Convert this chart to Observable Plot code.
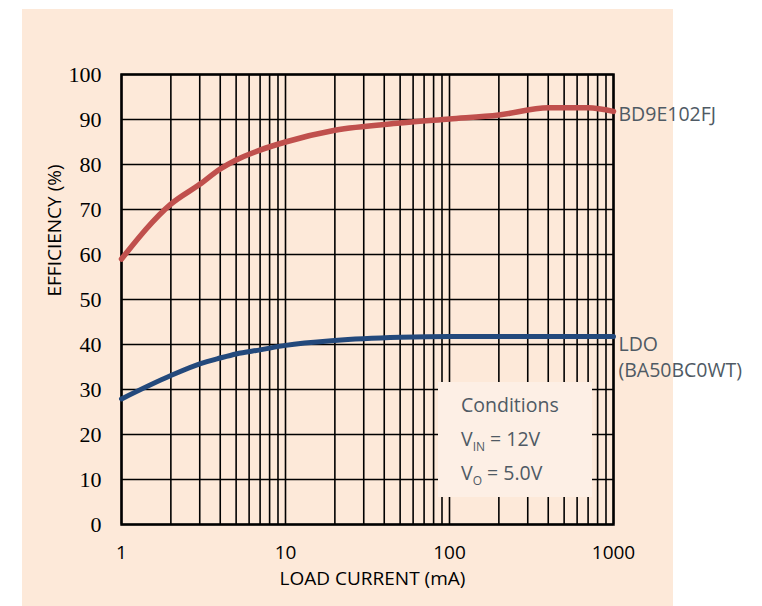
<!DOCTYPE html>
<html>
<head>
<meta charset="utf-8">
<script src="https://cdn.jsdelivr.net/npm/d3@7"></script>
<script src="https://cdn.jsdelivr.net/npm/@observablehq/plot@0.6"></script>
<style>
  html, body { margin: 0; padding: 0; background: #ffffff; }
  #wrap { position: relative; width: 762px; height: 606px; overflow: hidden; }
  #panel { position: absolute; left: 22px; top: 9px; width: 651px; height: 597px; background: #fde9d9; }
  #chart { position: absolute; left: 0; top: 0; }
  #cond { position: absolute; left: 438px; top: 382px; width: 154px; height: 115px; background: #fdefe5;
          font-family: "Open Sans", sans-serif; font-size: 19.5px; line-height: 24px; color: #4f5a64; }
  #cond div { position: absolute; left: 23px; white-space: nowrap; }
  #cond sub { font-size: 12px; vertical-align: -5px; line-height: 0; }
</style>
</head>
<body>
<div id="wrap">
  <div id="panel"></div>
  <div id="chart"></div>
  <div id="cond">
    <div style="top:11px">Conditions</div>
    <div style="top:45px">V<sub>IN</sub> = 12V</div>
    <div style="top:79px">V<sub>O</sub> = 5.0V</div>
  </div>
</div>
<script>
const currents = [1, 2, 3, 4, 5, 7, 10, 20, 50, 100, 200, 400, 700, 1000];
const bd9e102fj = [59, 71.2, 75.6, 79, 81, 83.2, 85, 87.6, 89.2, 90.1, 91, 92.6, 92.6, 91.8];
const ldo = [27.9, 33.1, 35.7, 37, 37.9, 38.8, 39.8, 40.9, 41.6, 41.8, 41.8, 41.8, 41.8, 41.8];
const xTicks = [1, 10, 100, 1000];
const yTicks = [0, 10, 20, 30, 40, 50, 60, 70, 80, 90, 100];
const xGrid = [1,2,3,4,5,6,7,8,9,10,20,30,40,50,60,70,80,90,100,200,300,400,500,600,700,800,900,1000];
const seriesNames = ["BD9E102FJ", "LDO\n(BA50BC0WT)"];

const red = currents.map((c, i) => ({x: c, y: bd9e102fj[i]}));
const blue = currents.map((c, i) => ({x: c, y: ldo[i]}));

const chart = Plot.plot({
  width: 762,
  height: 606,
  marginLeft: 121,
  marginRight: 149,
  marginTop: 74,
  marginBottom: 82,
  style: {background: "transparent", overflow: "visible"},
  x: {type: "log", domain: [1, 1000]},
  y: {domain: [0, 100]},
  marks: [
    Plot.ruleX(xGrid, {stroke: "#000", strokeWidth: 1.6}),
    Plot.ruleY(yTicks, {stroke: "#000", strokeWidth: 1.6}),
    Plot.frame({stroke: "#000", strokeWidth: 2.5}),
    Plot.axisY(yTicks, {tickSize: 0, tickPadding: 20, fontFamily: "Liberation Serif", fontSize: 22, fill: "#000", label: null}),
    Plot.axisX(xTicks, {tickSize: 0, tickPadding: 21, fontFamily: "Open Sans", fontSize: 19, fill: "#000", label: null, tickFormat: d => String(d)}),
    Plot.line(red, {x: "x", y: "y", stroke: "#c0504d", strokeWidth: 5.5, curve: "monotone-x"}),
    Plot.line(blue, {x: "x", y: "y", stroke: "#23497c", strokeWidth: 5, curve: "monotone-x"}),
    Plot.text([red[red.length - 1]], {x: "x", y: "y", text: () => seriesNames[0], textAnchor: "start", dx: 5, dy: 3,
      fontFamily: "Open Sans", fontSize: 19.5, fill: "#4f5a64"}),
    Plot.text([blue[blue.length - 1]], {x: "x", y: "y", text: () => seriesNames[1], textAnchor: "start", lineAnchor: "top", dx: 5, dy: -4,
      lineHeight: 1.33, fontFamily: "Open Sans", fontSize: 19.5, fill: "#4f5a64"}),
    Plot.text(["LOAD CURRENT (mA)"], {frameAnchor: "bottom", dx: 5, dy: 60, fontFamily: "Open Sans", fontSize: 19, fill: "#000"}),
    Plot.text(["EFFICIENCY (%)"], {frameAnchor: "left", rotate: -90, dx: -67, dy: -3, fontFamily: "Open Sans", fontSize: 19, fill: "#000"})
  ]
});
document.getElementById("chart").appendChild(chart);
</script>
</body>
</html>
